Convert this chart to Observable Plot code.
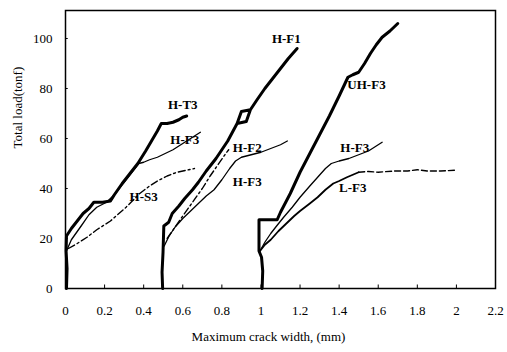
<!DOCTYPE html>
<html>
<head>
<meta charset="utf-8">
<script src="https://cdn.jsdelivr.net/npm/d3@7"></script>
<script src="https://cdn.jsdelivr.net/npm/@observablehq/plot@0.6"></script>
<style>
  html, body { margin: 0; padding: 0; background: #fff; }
</style>
</head>
<body>
<div id="chart"></div>
<script>
// ---- data: [crack width (mm), total load (tonf)] ----
const hT3 = [[0.005,0],[0.008,8],[0.003,15],[0.005,21],[0.03,24],[0.06,27],[0.09,30],[0.12,32],[0.145,34.5],[0.19,34.5],[0.23,35],[0.25,37.5],[0.29,42],[0.33,46],[0.37,50],[0.41,55],[0.44,59],[0.47,63],[0.49,66],[0.52,66],[0.55,66.5],[0.58,67.5],[0.60,68.5],[0.62,69]];
const hF3a = [[0.005,15],[0.03,19.5],[0.08,25],[0.12,29.5],[0.16,32.5],[0.21,34.5],[0.25,37.5],[0.29,41.5],[0.33,45.5],[0.375,50],[0.40,50.5],[0.43,51.5],[0.47,52.5],[0.51,54],[0.55,55.5],[0.59,57.5],[0.63,59.5],[0.66,61],[0.69,62.5]];
const hS3 = [[0.015,16],[0.06,18],[0.11,20.5],[0.16,23.5],[0.23,27],[0.31,32.5],[0.38,38],[0.43,41],[0.47,43],[0.52,45],[0.57,46.5],[0.63,47.5],[0.66,48]];
const hF1 = [[0.497,0],[0.494,6.5],[0.499,14.5],[0.503,25],[0.528,26.5],[0.546,30],[0.58,33],[0.61,36],[0.65,39.5],[0.68,42.5],[0.72,47],[0.77,52],[0.80,55.5],[0.83,59],[0.878,66],[0.925,66.8],[0.946,71.5],[0.90,70.8],[0.878,66],[0.90,70.8],[0.946,71.5],[0.98,75.5],[1.02,80],[1.06,84],[1.10,88],[1.14,92],[1.185,96]];
const hF2 = [[0.52,20],[0.56,24.5],[0.60,29],[0.65,34.5],[0.70,40],[0.74,45],[0.78,49.5],[0.82,54],[0.835,55.5]];
const hF3b = [[0.505,17],[0.53,21],[0.56,24.5],[0.60,28],[0.64,31],[0.68,34],[0.72,37],[0.76,39.5],[0.80,43.5],[0.84,48],[0.87,51],[0.90,52.5],[0.95,53.5],[1.0,54.5],[1.05,56],[1.10,57.5],[1.135,59]];
const uhF3 = [[1.006,0],[1.009,7],[1.003,12.5],[0.99,15],[0.99,27.5],[1.083,27.5],[1.10,30.5],[1.15,38],[1.20,46.5],[1.25,54],[1.30,61.5],[1.35,69],[1.40,77],[1.43,82],[1.445,84.5],[1.47,85.5],[1.50,86.5],[1.53,90],[1.56,94],[1.59,97.5],[1.62,100.5],[1.66,103],[1.70,106]];
const hF3c = [[0.995,15],[1.02,18.5],[1.05,22],[1.08,25],[1.116,28.5],[1.16,32.5],[1.20,36.5],[1.25,41],[1.29,44.5],[1.33,48],[1.36,50],[1.40,51],[1.45,52],[1.50,53.5],[1.55,55],[1.59,57],[1.62,58.5]];
const lF3 = [[0.995,15],[1.02,17.5],[1.05,19.5],[1.09,23],[1.13,26],[1.17,29],[1.20,31],[1.25,34],[1.29,36.5],[1.33,39.5],[1.37,42],[1.40,43],[1.44,44.5],[1.47,45.5],[1.50,46.5]];
const lF3tail = [[1.50,46.5],[1.55,46.8],[1.60,46.5],[1.68,47],[1.75,47],[1.80,47.5],[1.85,47],[1.92,47],[1.99,47.3]];

// curve labels
const labelText = ["H-T3","H-F3","H-S3","H-F1","H-F2","H-F3","UH-F3","H-F3","L-F3"];
const labelX    = [0.60, 0.61, 0.40, 1.13, 0.93, 0.93, 1.54, 1.48, 1.47];
const labelY    = [73.6, 59.6, 36.8, 100, 56.4, 42.8, 81.6, 56.2, 40.2];

const xTicks = [0,0.2,0.4,0.6,0.8,1,1.2,1.4,1.6,1.8,2,2.2];
const yTicks = [0,20,40,60,80,100];
const xTitle = "Maximum crack width, (mm)";
const yTitle = "Total load(tonf)";

const labels = labelText.map((t,i) => ({t, x: labelX[i], y: labelY[i]}));
const px = d => d[0], py = d => d[1];
const thick = {x: px, y: py, stroke: "#000", strokeWidth: 3, strokeLinejoin: "round", strokeLinecap: "round"};
const thin = {x: px, y: py, stroke: "#000", strokeWidth: 1.3, strokeLinejoin: "round"};
const dashdot = {x: px, y: py, stroke: "#000", strokeWidth: 1.4, strokeDasharray: "7,3,2,3"};

const chart = Plot.plot({
  width: 507,
  height: 352,
  marginLeft: 65,
  marginRight: 12,
  marginTop: 10,
  marginBottom: 64,
  style: {fontFamily: "'Liberation Serif', 'Times New Roman', serif", fontSize: "13px", background: "#fff", color: "#000"},
  x: {domain: [0, 2.2]},
  y: {domain: [0, 111.2]},
  marks: [
    Plot.frame({stroke: "#000", strokeWidth: 1.5}),
    Plot.axisX(xTicks, {tickSize: 0, tickPadding: 17, tickFormat: d3.format("~g"), label: null, fontSize: 13}),
    Plot.axisY(yTicks, {tickSize: 0, tickPadding: 13, label: null, fontSize: 13}),
    Plot.ruleX(xTicks, {y1: 0, y2: 1.4, stroke: "#000"}),
    Plot.ruleY(yTicks, {x1: 0, x2: 0.014, stroke: "#000"}),
    Plot.line(hT3, thick),
    Plot.line(hF3a, thin),
    Plot.line(hS3, dashdot),
    Plot.line(hF1, thick),
    Plot.line(hF2, dashdot),
    Plot.line(hF3b, thin),
    Plot.line(uhF3, thick),
    Plot.line(hF3c, thin),
    Plot.line(lF3, {x: px, y: py, stroke: "#000", strokeWidth: 1.8}),
    Plot.line(lF3tail, {x: px, y: py, stroke: "#000", strokeWidth: 1.4, strokeDasharray: "6,3"}),
    Plot.text(labels, {x: "x", y: "y", text: "t", fontWeight: "bold", fontSize: 13, fill: "#000"}),
    Plot.text([xTitle], {frameAnchor: "bottom", text: d => d, dy: 52, dx: -12, fontSize: 13, fill: "#000"}),
    Plot.text([yTitle], {frameAnchor: "left", text: d => d, rotate: -90, dx: -48, dy: -1, fontSize: 13, fill: "#000"})
  ]
});
document.getElementById("chart").appendChild(chart);
</script>
</body>
</html>
